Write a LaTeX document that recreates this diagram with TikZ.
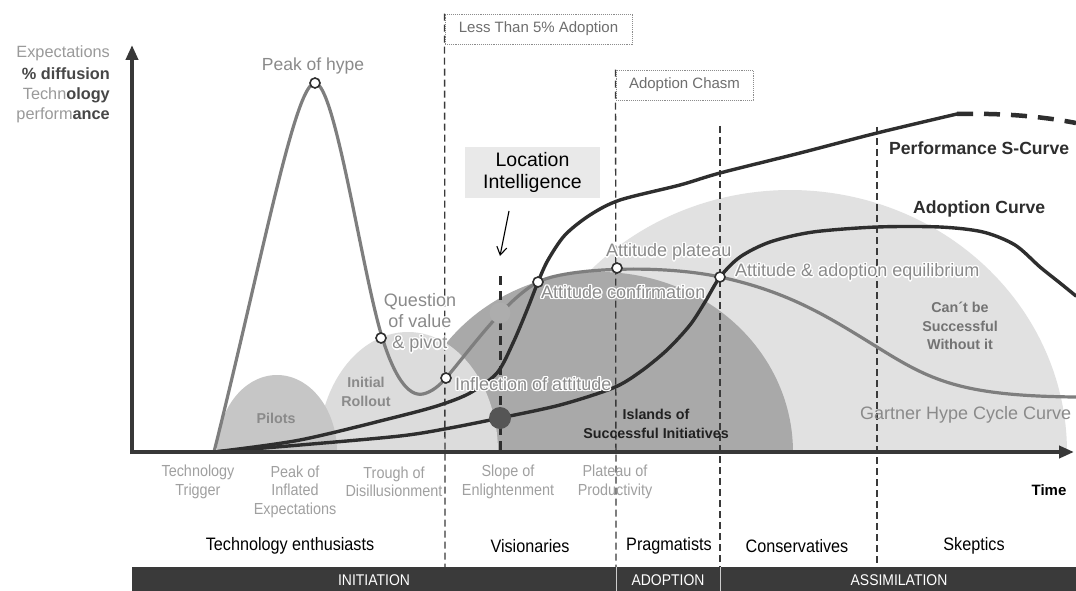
\documentclass[tikz,border=0pt]{standalone}
\usepackage{fontspec}
\setmainfont{Liberation Sans}
\newfontfamily\narrow[FakeStretch=0.9]{Liberation Sans}
\usetikzlibrary{arrows.meta}

\definecolor{lightreg}{HTML}{E1E1E1}
\definecolor{rollreg}{HTML}{DCDCDC}
\definecolor{pilotreg}{HTML}{C6C6C6}
\definecolor{islandreg}{HTML}{A9A9A9}
\definecolor{hypec}{HTML}{7E7E7E}
\definecolor{darkc}{HTML}{2E2E2E}
\definecolor{axisc}{HTML}{383838}
\definecolor{dashc}{HTML}{3A3A3A}
\definecolor{graytxt}{HTML}{8A8A8A}
\definecolor{miletxt}{HTML}{A0A0A0}
\definecolor{tagc}{HTML}{8C8C8C}
\definecolor{tagtxt}{HTML}{6E6E6E}
\definecolor{ylight}{HTML}{9A9A9A}
\definecolor{ydark}{HTML}{474747}
\definecolor{bandc}{HTML}{3A3A3A}
\definecolor{boxfill}{HTML}{E9E9E9}
\definecolor{dotlight}{HTML}{ADADAD}
\definecolor{dotdark}{HTML}{555555}

% white outline behind a line of text
\newcommand\halo[1]{{%
  \def\hcopy##1##2{\makebox[0pt][l]{\kern##1\raisebox{##2}{\color{white}#1}}}%
  \hcopy{1.4pt}{0pt}\hcopy{-1.4pt}{0pt}\hcopy{0pt}{1.4pt}\hcopy{0pt}{-1.4pt}%
  \hcopy{1pt}{1pt}\hcopy{-1pt}{1pt}\hcopy{1pt}{-1pt}\hcopy{-1pt}{-1pt}%
  #1}}

\begin{document}
\begin{tikzpicture}[x=1pt,y=-1pt,
  lbl/.style={inner sep=0pt,text=graytxt,font=\fontsize{18}{21}\selectfont},
  blbl/.style={inner sep=0pt,text=graytxt,align=center,font=\bfseries\fontsize{14.3}{18.5}\selectfont},
  curvelbl/.style={inner sep=0pt,text=darkc,font=\bfseries\fontsize{17.6}{21}\selectfont},
  mile/.style={inner sep=0pt,text=miletxt,align=center,font=\narrow\fontsize{16}{18.5}\selectfont},
  adopter/.style={inner sep=0pt,text=black,font=\narrow\fontsize{18}{20}\selectfont},
  phase/.style={inner sep=0pt,text=white,font=\narrow\fontsize{15.5}{18}\selectfont},
  ylab/.style={inner sep=0pt,anchor=east,font=\fontsize{16.3}{20}\selectfont},
  tagbox/.style={draw=tagc,densely dotted,line width=0.9pt,inner sep=0pt,text=tagtxt,font=\fontsize{15}{18}\selectfont},
  divider/.style={draw=dashc,line width=1.3pt,dash pattern=on 7pt off 4pt},
  marker/.style={circle,draw=darkc,fill=white,line width=1.6pt,inner sep=0pt,minimum size=10pt},
  hypecurve/.style={draw=hypec,line width=3.2pt,line join=round,line cap=round},
  darkcurve/.style={draw=darkc,line width=3.4pt,line join=round,line cap=round},
  axis/.style={draw=axisc,line width=4pt,-{Triangle[length=15pt,width=12pt]}},
]
\useasboundingbox (0,0) rectangle (1076,591);
\fill[white] (0,0) rectangle (1076,591);

% ---- shaded regions standing on the time axis
\fill[lightreg] plot[domain=0:180,samples=120] ({790+277*cos(\x)},{452-262*sin(\x)}) -- cycle;
\fill[islandreg] plot[domain=0:180,samples=100] ({600+193*cos(\x)},{452-180*sin(\x)}) -- cycle;
\fill[rollreg] plot[domain=0:180,samples=80] ({408+90*cos(\x)},{452-120*sin(\x)}) -- cycle;
\fill[pilotreg] plot[domain=0:180,samples=80] ({277+60*cos(\x)},{452-77*sin(\x)}) -- cycle;

% ---- phase tags and their boundaries
\node[tagbox,minimum width=187pt,minimum height=30pt] (less) at (538.5,29) {Less Than 5\% Adoption};
\node[tagbox,minimum width=137pt,minimum height=30pt] (chasm) at (684.5,85) {Adoption Chasm};
\coordinate (d1b) at (445,567);
\coordinate (d2b) at (616,567);
\coordinate (d3t) at (720,126);
\coordinate (d3b) at (720,567);
\coordinate (d4t) at (877,127);
\coordinate (d4b) at (877,567);
\draw[divider] (less.north west) -- (d1b);
\draw[divider] (chasm.north west) -- (d2b);
\draw[divider] (d3t) -- (d3b);
\draw[divider] (d4t) -- (d4b);

% ---- Gartner hype cycle curve
\draw[hypecurve] (214,452)
  .. controls (262,260) and (295,83) .. (315,83)
  .. controls (335,83) and (362,272) .. (382,337)
  .. controls (394,376) and (408,397) .. (423,394)
  .. controls (432,392) and (440,385) .. (446,378)
  .. controls (470,350) and (505,300) .. (538,282)
  .. controls (565,268) and (660,264) .. (720,277)
  .. controls (790,292) and (830,318) .. (877,347)
  .. controls (930,380) and (960,396) .. (1076,397);

% ---- performance S-curve
\draw[darkcurve] plot[smooth,tension=0.5] coordinates {
 (214,452) (300,440) (400,416) (440,405) (470,393) (497,373) (513,343) (527,310)
 (538,282) (548,260) (565,235) (590,215) (620,200) (680,185) (720,173) (800,153)
 (877,133) (957,114)};
\draw[draw=darkc,line width=4.5pt,dash pattern=on 16pt off 11pt]
 (957,114) .. controls (1000,113) and (1040,116) .. (1076,123);

% ---- adoption curve
\draw[darkcurve] plot[smooth,tension=0.5] coordinates {
 (214,452) (300,445) (400,436) (450,428) (500,418) (560,405) (613,388) (640,372)
 (667,350) (690,325) (705,302) (720,277) (740,257) (770,242) (813,232) (877,227)
 (940,227) (983,232) (1015,245) (1040,267) (1060,283) (1076,296)};

% ---- position of location intelligence
\coordinate (lit) at (500,276);
\coordinate (lib) at (500,452);
\draw[draw=darkc,line width=3pt,dash pattern=on 9pt off 6pt] (lit) -- (lib);
\node[circle,fill=dotlight,inner sep=0pt,minimum size=21pt] (lidot) at (500,313) {};
\node[circle,fill=dotdark,inner sep=0pt,minimum size=22pt] (isldot) at (500,418) {};

\node[fill=boxfill,inner sep=0pt,minimum width=135pt,minimum height=51pt,align=center,
      font=\fontsize{19.5}{22.5}\selectfont] (li) at (532.5,172.5) {Location\\Intelligence};
\coordinate (lia) at (509,211);
\coordinate (lih) at (500,256);
\draw[line width=1.1pt,-{Straight Barb[length=8pt,width=10pt]}] (lia) -- (lih);

% ---- milestones on the hype curve
\node[marker] (peak) at (315,83) {};
\node[marker] (question) at (381,338) {};
\node[marker] (inflect) at (446,378) {};
\node[marker] (confirm) at (538,282) {};
\node[marker] (plateau) at (617,268) {};
\node[marker] (equil) at (720,277) {};

% ---- curve annotations
\node[lbl,font=\fontsize{17.5}{21}\selectfont] (tpeak) at (313,66) {Peak of hype};
\node[lbl,align=center] (tquest) at (420,323) {\halo{Question}\\\halo{of value}\\\halo{\& pivot}};
\node[lbl,anchor=west] (tinfl) at (455,384) {\halo{Inflection of attitude}};
\node[lbl,anchor=west] (tconf) at (541,292) {\halo{Attitude confirmation}};
\node[lbl,anchor=west] (tplat) at (606,252) {\halo{Attitude plateau}};
\node[lbl,anchor=west] (tequi) at (735,272) {\halo{Attitude \& adoption equilibrium}};
\node[lbl,anchor=west] (tgart) at (860,415) {Gartner Hype Cycle Curve};
\node[curvelbl,anchor=west] (tperf) at (889,148) {Performance S-Curve};
\node[curvelbl,anchor=west] (tadop) at (913,209) {Adoption Curve};

% ---- region labels
\node[blbl] (tpil) at (276,418) {Pilots};
\node[blbl] (troll) at (366,392) {Initial\\Rollout};
\node[blbl,text=black!87] (tisl) at (656,424) {Islands of\\Successful Initiatives};
\node[blbl,text=black!55] (tcant) at (960,326) {Can´t be\\Successful\\Without it};

% ---- vertical axis title
\node[ylab,text=ylight] (y1) at (110,53) {Expectations};
\node[ylab,text=ydark,font=\bfseries\fontsize{16.3}{20}\selectfont] (y2) at (110,74) {\% diffusion};
\node[ylab] (y3) at (110,95) {\textcolor{ylight}{Techn}\textcolor{ydark}{\bfseries ology}};
\node[ylab] (y4) at (110,115) {\textcolor{ylight}{perform}\textcolor{ydark}{\bfseries ance}};

% ---- axes
\coordinate (origin) at (132,452);
\coordinate (xend) at (1074,452);
\coordinate (yorig) at (132,454);
\coordinate (yend) at (132,45);
\draw[axis] (yorig) -- (yend);
\draw[axis] (origin) -- (xend);
\node[inner sep=0pt,font=\bfseries\fontsize{15}{18}\selectfont] (time) at (1049,490) {Time};

% ---- hype cycle phases
\node[mile] (m1) at (198,482) {Technology\\Trigger};
\node[mile] (m2) at (295,491.5) {Peak of\\Inflated\\Expectations};
\node[mile] (m3) at (394,482) {Trough of\\Disillusionment};
\node[mile] (m4) at (508,482) {Slope of\\Enlightenment};
\node[mile] (m5) at (615,482) {Plateau of\\Productivity};

% ---- adopter groups
\node[adopter] (a1) at (290,546) {Technology enthusiasts};
\node[adopter] (a2) at (530,546) {Visionaries};
\node[adopter] (a3) at (669,546) {Pragmatists};
\node[adopter] (a4) at (797,546) {Conservatives};
\node[adopter] (a5) at (974,546) {Skeptics};

% ---- stage band
\fill[bandc] (132,567) rectangle (1076,591);
\draw[white!80!black,line width=1pt] (616,567) -- (616,591);
\draw[white!80!black,line width=1pt] (720,567) -- (720,591);
\node[phase] (p1) at (374,580) {INITIATION};
\node[phase] (p2) at (668,580) {ADOPTION};
\node[phase] (p3) at (899,580) {ASSIMILATION};
\end{tikzpicture}
\end{document}
